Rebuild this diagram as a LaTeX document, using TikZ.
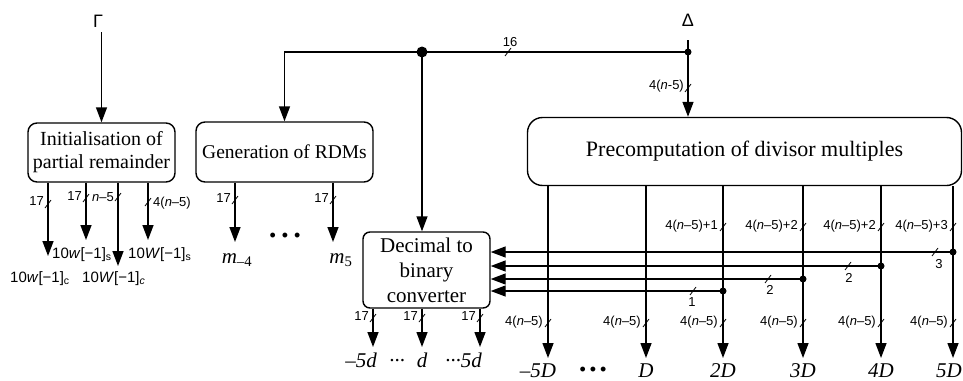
\documentclass[tikz,border=0pt]{standalone}
\usepackage{fontspec}
\setmainfont{Liberation Serif}
\newfontfamily\lsans{Liberation Sans}
\usetikzlibrary{arrows.meta}

% bus-width tick: a short "/" across a wire
\newcommand\wiretick[1]{\draw[tickmark] ([shift={(-3,4)}]#1) -- ([shift={(3,-4)}]#1);}

\begin{document}
\begin{tikzpicture}[x=1pt,y=-1pt,
  box/.style={draw, line width=1.4pt, align=center, inner sep=0pt},
  wire/.style={line width=1.4pt},
  arr/.style={wire,-{Triangle[length=15pt,width=11pt]}},
  tickmark/.style={line width=0.8pt},
  bus/.style={font=\lsans\fontsize{13}{15}\selectfont, inner sep=1pt},
  sig/.style={font=\lsans\fontsize{15}{18}\selectfont, inner sep=0pt, anchor=base west},
  mathout/.style={font=\fontsize{21}{24}\selectfont\itshape, inner sep=0pt, anchor=base},
  greek/.style={font=\lsans\fontsize{18}{20}\selectfont, inner sep=1pt},
  junction/.style={circle, fill, inner sep=0pt, minimum size=#1},
  junction/.default=8pt,
  ellip/.style={font=\lsans\fontsize{18}{18}\selectfont, inner sep=0pt}]

\path[use as bounding box, fill=white] (0,0) rectangle (963,380);

% ---------- blocks ----------
\node[box, rounded corners=9pt, minimum width=147pt, minimum height=59pt,
      font=\fontsize{20}{23}\selectfont] (init) at (101.5,152.5)
      {Initialisation of\\partial remainder};
\node[box, rounded corners=9pt, minimum width=177pt, minimum height=60pt,
      font=\fontsize{19.5}{23}\selectfont] (rdm) at (284.5,152)
      {Generation of RDMs};
\node[box, rounded corners=7pt, minimum width=127pt, minimum height=76pt,
      font=\fontsize{21}{25}\selectfont] (dec) at (426.5,270)
      {Decimal to\\binary\\converter};
\node[box, rounded corners=15pt, minimum width=434pt, minimum height=68pt,
      font=\fontsize{22}{25}\selectfont] (pre) at (744.5,151.5)
      {Precomputation of divisor multiples};

% ---------- inputs ----------
\node[greek] (gamma) at (98,21) {Γ};
\node[greek] (delta) at (688,20) {Δ};

\draw[arr, shorten <=4pt] (gamma.south -| init.north) -- (init.north);

\coordinate (jtop) at (688,52);
\coordinate (jdec) at (422,52);
\draw[arr, shorten <=13pt] (delta.south) -- (delta.south |- pre.north);
\draw[arr] (jtop) -| (rdm.north);
\draw[arr] (jdec) -- (jdec |- dec.north);
\node[junction=7pt] at (jtop) {};
\node[junction=11pt] at (jdec) {};

\wiretick{508,52}
\node[bus] at (510,42) {16};
\wiretick{688,88}
\node[bus, anchor=east] at (685,86) {4(\textit{n}-5)};

% ---------- partial remainder outputs ----------
\coordinate (io1) at (48,256);
\coordinate (io2) at (86,240);
\coordinate (io3) at (118,266);
\coordinate (io4) at (148,240);
\foreach \p in {io1,io2,io3,io4}
  \draw[arr] (init.south -| \p) -- (\p);

\wiretick{48,204}
\node[bus, anchor=east] at (45,201) {17};
\wiretick{86,198}
\node[bus, anchor=east] at (83,196) {17};
\wiretick{118,197}
\node[bus, anchor=east] at (115,197) {\textit{n}–5};
\wiretick{148,202}
\node[bus, anchor=west] at (152,203) {4(\textit{n}–5)};

\node[sig] at (52,258) {10\textit{w}[−1]\textsubscript{s}};
\node[sig] at (128,258) {10\textit{W}[−1]\textsubscript{s}};
\node[sig] at (10,282) {10\textit{w}[−1]\textsubscript{c}};
\node[sig] at (82,282) {10\textit{W}[−1]\textsubscript{\textit{c}}};

% ---------- RDM outputs ----------
\coordinate (ro1) at (235,242);
\coordinate (ro2) at (333,242);
\draw[arr] (rdm.south -| ro1) -- (ro1);
\draw[arr] (rdm.south -| ro2) -- (ro2);
\wiretick{235,200}
\node[bus, anchor=east] at (232,198) {17};
\wiretick{333,200}
\node[bus, anchor=east] at (330,198) {17};

\node[mathout] at (237,263) {m\textsubscript{\upshape –4}};
\node[mathout] at (341,263) {m\textsubscript{\upshape 5}};
\node[ellip] at (285,237) {•\hspace{6pt}•\hspace{6pt}•};

% ---------- converter outputs ----------
\coordinate (do1) at (373,347);
\coordinate (do2) at (422,347);
\coordinate (do3) at (480,347);
\foreach \p in {do1,do2,do3}
  \draw[arr] (dec.south -| \p) -- (\p);
\wiretick{373,318}
\node[bus, anchor=east] at (370,316) {17};
\wiretick{422,318}
\node[bus, anchor=east] at (419,316) {17};
\wiretick{480,318}
\node[bus, anchor=east] at (477,316) {17};

\node[mathout] at (361,367) {–5d};
\node[mathout] at (397,367) {···};
\node[mathout] at (422,367) {d};
\node[mathout, anchor=base west] at (445,367) {···5d};

% ---------- divisor multiples ----------
\coordinate (p1) at (548,358);
\coordinate (p2) at (646,358);
\coordinate (p3) at (723,358);
\coordinate (p4) at (803,358);
\coordinate (p5) at (881,358);
\coordinate (p6) at (953,358);
\foreach \p in {p1,p2,p3,p4,p5,p6}
  \draw[arr] (pre.south -| \p) -- (\p);

\foreach \x/\t in {723/1, 803/2, 881/2, 953/3}{
  \wiretick{\x,227}
  \node[bus, anchor=east] at (\x-4,226) {4(\textit{n}–5)+\t};
}
\foreach \x in {548,646,723,803,881,953}{
  \wiretick{\x,323}
  \node[bus, anchor=east] at (\x-4,322) {4(\textit{n}–5)};
}

% feedback of the extra bits to the converter
\coordinate (f3) at (953,252);
\coordinate (f2) at (881,266);
\coordinate (f1) at (803,279);
\coordinate (f0) at (723,291);
\foreach \p in {f3,f2,f1,f0}{
  \draw[arr] (\p) -- (\p -| dec.east);
  \node[junction=7pt] at (\p) {};
}
\wiretick{935,252}
\node[bus] at (939,264) {3};
\wiretick{848,266}
\node[bus] at (849,278) {2};
\wiretick{768,279}
\node[bus] at (770,290) {2};
\wiretick{693,291}
\node[bus] at (692,302) {1};

\node[mathout] at (538,377) {–5D};
\node[ellip] at (593,371) {•\hspace{4pt}•\hspace{4pt}•};
\node[mathout] at (646,377) {D};
\node[mathout] at (723,377) {2D};
\node[mathout] at (803,377) {3D};
\node[mathout] at (881,377) {4D};
\node[mathout, anchor=base east] at (962,377) {5D};

\end{tikzpicture}
\end{document}
